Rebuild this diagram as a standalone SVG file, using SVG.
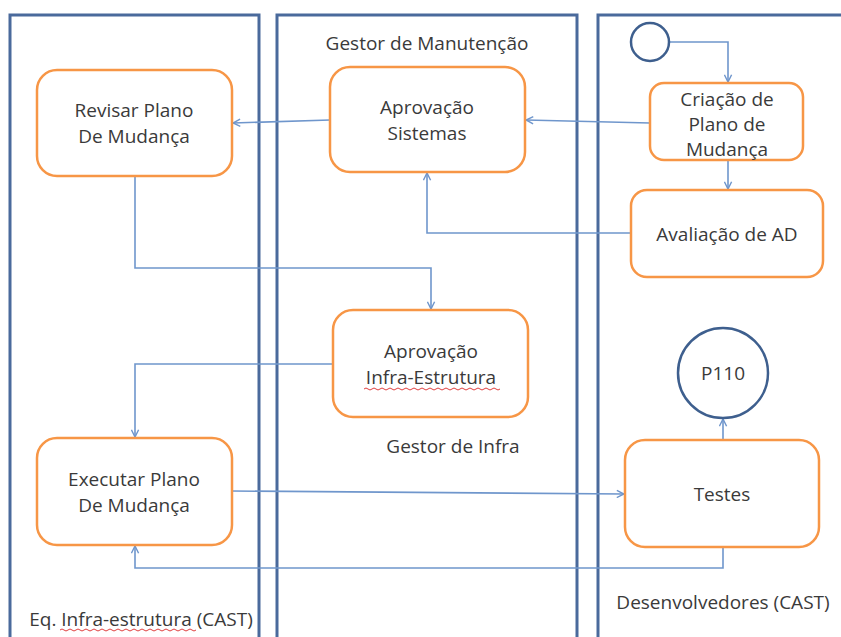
<svg xmlns="http://www.w3.org/2000/svg" width="841" height="637" viewBox="0 0 841 637">
  <style>
    .lane { fill: none; stroke: #4a6a9c; stroke-width: 3; }
    .box { fill: #ffffff; stroke: #f79646; stroke-width: 2.5; }
    .circ { fill: #ffffff; stroke: #3e5f8e; stroke-width: 2.5; }
    .conn { fill: none; stroke: #6f96cc; stroke-width: 1.6; }
    .t { font-family: "Open Sans", "Liberation Sans", sans-serif; font-size: 19px; fill: #3a3a3a; text-anchor: middle; }
    .sq { fill: none; stroke: #e04040; stroke-width: 1; }
  </style>
  <defs>
    <marker id="arrow" viewBox="0 0 10 10" refX="9" refY="5" markerWidth="9" markerHeight="9" markerUnits="userSpaceOnUse" orient="auto">
      <path d="M1,1 L9,5 L1,9" fill="none" stroke="#6f96cc" stroke-width="1.6"/>
    </marker>
  </defs>

  <rect width="841" height="637" fill="#ffffff"/>

  <!-- swimlanes -->
  <g id="lanes">
    <path class="lane" d="M10,640 V15 H259 V640"/>
    <path class="lane" d="M277,640 V15 H577 V640"/>
    <path class="lane" d="M598,640 V15 H845"/>
    <text class="t" x="427" y="50">Gestor de Manutenção</text>
    <text class="t" x="453" y="453">Gestor de Infra</text>
    <text class="t" x="141" y="626">Eq. Infra-estrutura (CAST)</text>
    <path class="sq" d="M60,630 q2,-2 4,0 t4,0 t4,0 t4,0 t4,0 t4,0 t4,0 t4,0 t4,0 t4,0 t4,0 t4,0 t4,0 t4,0 t4,0 t4,0 t4,0 t4,0 t4,0 t4,0 t4,0 t4,0 t4,0 t4,0 t4,0 t4,0 t4,0 t4,0 t4,0 t4,0 t4,0 t4,0 t4,0 t4,0"/>
    <text class="t" x="723" y="609">Desenvolvedores (CAST)</text>
  </g>

  <!-- connectors -->
  <g id="connectors">
    <path class="conn" d="M670,42 H728 V82" marker-end="url(#arrow)"/>
    <path class="conn" d="M728,160 V189" marker-end="url(#arrow)"/>
    <path class="conn" d="M650,123 L526,120" marker-end="url(#arrow)"/>
    <path class="conn" d="M330,120 L233,123" marker-end="url(#arrow)"/>
    <path class="conn" d="M631,233 H427 V173" marker-end="url(#arrow)"/>
    <path class="conn" d="M135,176 V268 H431 V309" marker-end="url(#arrow)"/>
    <path class="conn" d="M333,364 H135 V437" marker-end="url(#arrow)"/>
    <path class="conn" d="M232,491 L624,494" marker-end="url(#arrow)"/>
    <path class="conn" d="M723,440 V419" marker-end="url(#arrow)"/>
    <path class="conn" d="M723,547 V568 H135 V546" marker-end="url(#arrow)"/>
  </g>

  <!-- nodes -->
  <g id="start">
    <circle class="circ" cx="650" cy="42" r="19"/>
  </g>
  <g id="criacao">
    <rect class="box" x="650" y="83" width="153" height="77" rx="14"/>
    <text class="t" x="727" y="106">Criação de</text>
    <text class="t" x="727" y="131">Plano de</text>
    <text class="t" x="727" y="156">Mudança</text>
  </g>
  <g id="avaliacao">
    <rect class="box" x="631" y="190" width="192" height="87" rx="16"/>
    <text class="t" x="727" y="241">Avaliação de AD</text>
  </g>
  <g id="aprovacao-sistemas">
    <rect class="box" x="330" y="67" width="195" height="105" rx="20"/>
    <text class="t" x="427" y="114">Aprovação</text>
    <text class="t" x="427" y="140">Sistemas</text>
  </g>
  <g id="revisar">
    <rect class="box" x="37" y="70" width="195" height="106" rx="20"/>
    <text class="t" x="134" y="117">Revisar Plano</text>
    <text class="t" x="134" y="143">De Mudança</text>
  </g>
  <g id="aprovacao-infra">
    <rect class="box" x="333" y="310" width="195" height="107" rx="20"/>
    <text class="t" x="431" y="358">Aprovação</text>
    <text class="t" x="431" y="384">Infra-Estrutura</text>
    <path class="sq" d="M364,389 q2,-2 4,0 t4,0 t4,0 t4,0 t4,0 t4,0 t4,0 t4,0 t4,0 t4,0 t4,0 t4,0 t4,0 t4,0 t4,0 t4,0 t4,0 t4,0 t4,0 t4,0 t4,0 t4,0 t4,0 t4,0 t4,0 t4,0 t4,0 t4,0 t4,0 t4,0 t4,0 t4,0 t4,0 t4,0"/>
  </g>
  <g id="executar">
    <rect class="box" x="37" y="438" width="195" height="107" rx="20"/>
    <text class="t" x="134" y="486">Executar Plano</text>
    <text class="t" x="134" y="512">De Mudança</text>
  </g>
  <g id="testes">
    <rect class="box" x="625" y="440" width="194" height="107" rx="20"/>
    <text class="t" x="722" y="501">Testes</text>
  </g>
  <g id="p110">
    <circle class="circ" cx="723" cy="373" r="45"/>
    <text class="t" x="723" y="380">P110</text>
  </g>
</svg>
